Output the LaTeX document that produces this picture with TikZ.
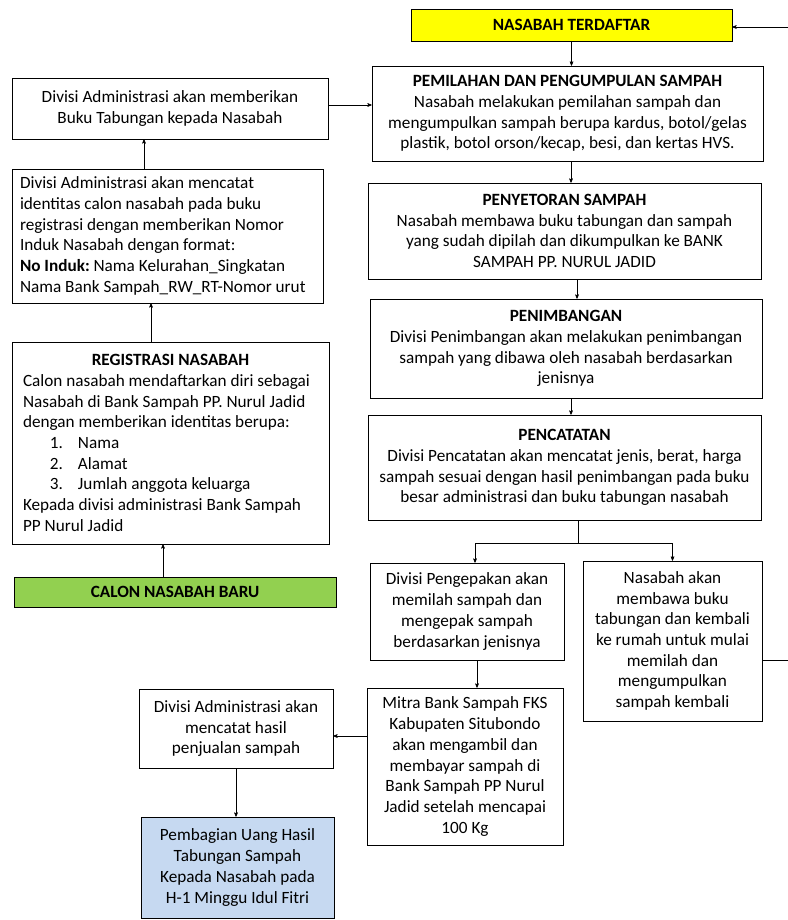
\documentclass[tikz,border=0pt]{standalone}
\usepackage{fontspec}
\setmainfont{Carlito}
\usepackage{tikz}
\usetikzlibrary{arrows,positioning}
\frenchspacing

\definecolor{kuning}{RGB}{255,255,0}
\definecolor{hijau}{RGB}{146,208,80}
\definecolor{biru}{RGB}{198,217,241}

\begin{document}
\begin{tikzpicture}[x=1pt,y=-1pt,->,>=stealth',semithick,
    box/.style={draw,rectangle,align=center,inner sep=0pt,
      font=\fontsize{17.2}{20.7}\selectfont},
    lbox/.style={box,align=left}]
  \useasboundingbox (0,0) rectangle (787,920);

  \node[box,fill=kuning,minimum width=321pt,minimum height=32pt] (T)  at (571.5,25)  {\textbf{NASABAH TERDAFTAR}};
  \node[box,minimum width=391pt,minimum height=95pt]  (P1) at (567.5,113.5) {\textbf{PEMILAHAN DAN PENGUMPULAN SAMPAH}\\Nasabah melakukan pemilahan sampah dan\\mengumpulkan sampah berupa kardus, botol/gelas\\plastik, botol orson/kecap, besi, dan kertas HVS.};
  \node[box,minimum width=393pt,minimum height=96pt]  (P2) at (564.5,231)   {\textbf{PENYETORAN SAMPAH}\\Nasabah membawa buku tabungan dan sampah\\yang sudah dipilah dan dikumpulkan ke BANK\\SAMPAH PP. NURUL JADID};
  \node[box,minimum width=392pt,minimum height=99pt]  (P3) at (566,348.5)   {\textbf{PENIMBANGAN}\\Divisi Penimbangan akan melakukan penimbangan\\sampah yang dibawa oleh nasabah berdasarkan\\jenisnya};
  \node[box,minimum width=393pt,minimum height=105pt] (P4) at (564.5,467.5) {\textbf{PENCATATAN}\\Divisi Pencatatan akan mencatat jenis, berat, harga\\sampah sesuai dengan hasil penimbangan pada buku\\besar administrasi dan buku tabungan nasabah};
  \node[box,minimum width=194pt,minimum height=97pt]  (K)  at (467,611.5)   {Divisi Pengepakan akan\\memilah sampah dan\\mengepak sampah\\berdasarkan jenisnya};
  \node[box,minimum width=179pt,minimum height=160pt] (N)  at (672.5,641)   {Nasabah akan\\membawa buku\\tabungan dan kembali\\ke rumah untuk mulai\\memilah dan\\mengumpulkan\\sampah kembali};
  \node[box,minimum width=196pt,minimum height=157pt] (M)  at (465,766.5)   {Mitra Bank Sampah FKS\\Kabupaten Situbondo\\akan mengambil dan\\membayar sampah di\\Bank Sampah PP Nurul\\Jadid setelah mencapai\\100 Kg};
  \node[box,minimum width=194pt,minimum height=79pt]  (H)  at (236,728.5)   {Divisi Administrasi akan\\mencatat hasil\\penjualan sampah};
  \node[box,fill=biru,minimum width=193pt,minimum height=101pt] (B) at (237.5,867.5) {Pembagian Uang Hasil\\Tabungan Sampah\\Kepada Nasabah pada\\H-1 Minggu Idul Fitri};

  \node[box,minimum width=316pt,minimum height=61pt]  (A1) at (170,108.5)   {Divisi Administrasi akan memberikan\\Buku Tabungan kepada Nasabah};
  \node[lbox,text width=295pt,inner xsep=8pt,minimum height=134pt] (A2) at (167.5,236) {\spaceskip=0pt\xspaceskip=0pt\relax
    Divisi Administrasi akan mencatat\\identitas calon nasabah pada buku\\registrasi dengan memberikan Nomor\\Induk Nasabah dengan format:\\\textbf{No Induk:} Nama Kelurahan\_Singkatan\\Nama Bank Sampah\_RW\_RT-Nomor urut};
  \node[lbox,text width=295pt,inner xsep=11pt,minimum height=202pt] (R) at (170.5,443) {\spaceskip=0pt\xspaceskip=0pt\relax
    \centerline{\textbf{REGISTRASI NASABAH}}
    Calon nasabah mendaftarkan diri sebagai\\Nasabah di Bank Sampah PP. Nurul Jadid\\dengan memberikan identitas berupa:\\
    \hspace*{27pt}\makebox[28pt][l]{1.}Nama\\
    \hspace*{27pt}\makebox[28pt][l]{2.}Alamat\\
    \hspace*{27pt}\makebox[28pt][l]{3.}Jumlah anggota keluarga\\
    Kepada divisi administrasi Bank Sampah\\PP Nurul Jadid};
  \node[box,fill=hijau,minimum width=322pt,minimum height=30pt] (C) at (175,592) {\textbf{CALON NASABAH BARU}};

  \coordinate (split) at (578,543);
  \coordinate (balik) at (792,27);

  \draw (T) -- (T |- P1.north);
  \draw ([xshift=3.5pt]P1.south) -- ([xshift=3.5pt]P1.south |- P2.north);
  \draw ([xshift=12.5pt]P2.south) -- ([xshift=12.5pt]P2.south |- P3.north);
  \draw ([xshift=5pt]P3.south) -- ([xshift=5pt]P3.south |- P4.north);
  \draw[-] (split |- P4.south) -- (split);
  \draw (split) -| ([xshift=8pt]K.north);
  \draw (split) -| (N.north);
  \draw ([xshift=10pt]K.south) -- ([xshift=10pt]K.south |- M.north);
  \draw ([yshift=30.5pt]M.west) -- ([yshift=30.5pt]M.west -| H.east);
  \draw (H) -- (H |- B.north);
  \draw ([yshift=-19pt]N.east) -| (balik) -- (balik -| T.east);

  \draw (C.north) ++(-12,0) coordinate (c1) -- (c1 |- R.south);
  \draw (R.north) ++(-19.5,0) coordinate (r1) -- (r1 |- A2.south);
  \draw (A2.north) ++(-23.5,0) coordinate (a1) -- (a1 |- A1.south);
  \draw ([yshift=3.5pt]A1.east) -- ([yshift=3.5pt]A1.east -| P1.west);
\end{tikzpicture}
\end{document}
